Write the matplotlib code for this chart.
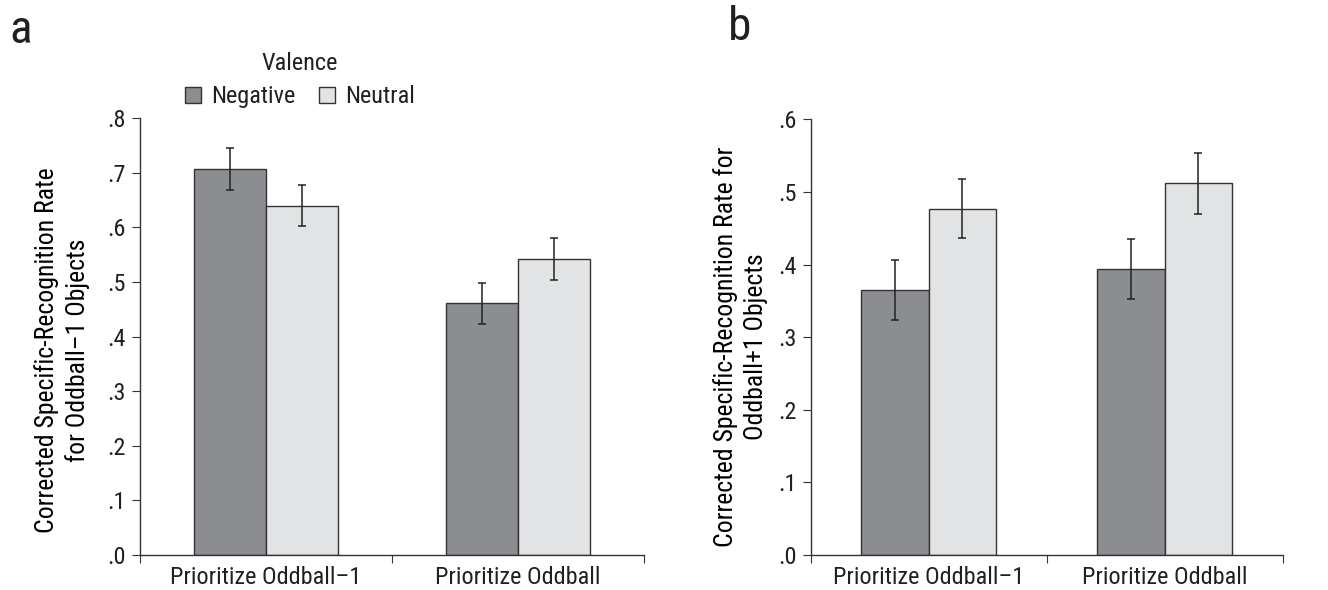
import matplotlib
matplotlib.use("Agg")
import matplotlib.pyplot as plt
from matplotlib.patches import Patch
from matplotlib import font_manager
import numpy as np

_avail = {f.name for f in font_manager.fontManager.ttflist}
_pref = ['Liberation Sans Narrow', 'Roboto Condensed', 'Archivo Narrow', 'Barlow Condensed']
_fams = [f for f in _pref if f in _avail] + ['DejaVu Sans']
plt.rcParams['font.family'] = _fams
plt.rcParams['text.color'] = '#231f20'
plt.rcParams['xtick.color'] = '#333333'
plt.rcParams['ytick.color'] = '#333333'
plt.rcParams['xtick.labelcolor'] = '#231f20'
plt.rcParams['ytick.labelcolor'] = '#231f20'

categories = ["Prioritize Oddball\u20131", "Prioritize Oddball"]
series = ["Negative", "Neutral"]

a_negative = [0.707, 0.461]
a_neutral = [0.640, 0.542]
a_neg_err = [0.038, 0.038]
a_neu_err = [0.038, 0.039]

b_negative = [0.365, 0.394]
b_neutral = [0.477, 0.512]
b_neg_err = [0.041, 0.041]
b_neu_err = [0.041, 0.042]

a_yticks = [0.0, 0.1, 0.2, 0.3, 0.4, 0.5, 0.6, 0.7, 0.8]
a_yticklabels = [".0", ".1", ".2", ".3", ".4", ".5", ".6", ".7", ".8"]
b_yticks = [0.0, 0.1, 0.2, 0.3, 0.4, 0.5, 0.6]
b_yticklabels = [".0", ".1", ".2", ".3", ".4", ".5", ".6"]

dark = "#8c8d90"
light = "#e2e3e5"
edge = "#333333"
FS = 17.5
FSL = 18.5

W, H = 1328, 590
fig = plt.figure(figsize=(W / 100, H / 100), dpi=100)
ax_a = fig.add_axes([0.1054, 0.0593, 0.3795, 0.7402])
ax_b = fig.add_axes([0.6105, 0.0593, 0.3554, 0.7385])

def draw(ax, neg, neu, neg_err, neu_err, yticks, yticklabels, ymax, ylabel):
    x = np.arange(len(categories))
    w = 0.286
    ax.bar(x - w / 2, neg, w, color=dark, edgecolor=edge, linewidth=1.0, zorder=2)
    ax.bar(x + w / 2, neu, w, color=light, edgecolor=edge, linewidth=1.0, zorder=2)
    ax.errorbar(x - w / 2, neg, yerr=neg_err, fmt='none', ecolor='#222222',
                elinewidth=1.1, capsize=2.6, capthick=1.1, zorder=3)
    ax.errorbar(x + w / 2, neu, yerr=neu_err, fmt='none', ecolor='#222222',
                elinewidth=1.1, capsize=2.6, capthick=1.1, zorder=3)
    ax.set_xlim(-0.5, 1.5)
    ax.set_ylim(0, ymax)
    ax.set_yticks(yticks)
    ax.set_yticklabels(yticklabels, fontsize=FS)
    ax.set_xticks([-0.5, 0.5, 1.5])
    ax.set_xticklabels([])
    ax.set_xticks(x, minor=True)
    ax.set_xticklabels(categories, minor=True, fontsize=FS)
    ax.tick_params(axis='x', which='minor', length=0, pad=8)
    ax.tick_params(axis='x', which='major', length=6, direction='out')
    ax.tick_params(axis='y', length=6, direction='out', pad=4)
    for s in ['top', 'right']:
        ax.spines[s].set_visible(False)
    for s in ['left', 'bottom']:
        ax.spines[s].set_color('#333333')
        ax.spines[s].set_linewidth(1.0)
    ax.set_ylabel(ylabel, fontsize=FSL, linespacing=1.3)

draw(ax_a, a_negative, a_neutral, a_neg_err, a_neu_err, a_yticks, a_yticklabels, 0.8,
     "Corrected Specific-Recognition Rate\nfor Oddball\u20131 Objects")
draw(ax_b, b_negative, b_neutral, b_neg_err, b_neu_err, b_yticks, b_yticklabels, 0.6,
     "Corrected Specific-Recognition Rate for\nOddball+1 Objects")

handles = [Patch(facecolor=dark, edgecolor=edge, linewidth=1.0),
           Patch(facecolor=light, edgecolor=edge, linewidth=1.0)]
leg = fig.legend(handles, series, title="Valence", loc='center',
                 bbox_to_anchor=(300 / W, 1 - 80 / H), ncol=2, frameon=False,
                 fontsize=FS, title_fontsize=FS, handlelength=0.66, handleheight=0.66,
                 handletextpad=0.42, columnspacing=0.95, labelspacing=0.45)

fig.text(9 / W, 1 - 30 / H, "a", fontsize=34, va='center', ha='left')
fig.text(728 / W, 1 - 27 / H, "b", fontsize=34, va='center', ha='left')

# place y-labels so their right edge and vertical centre match the reference
fig.canvas.draw()
for ax, right_px, center_px in [(ax_a, 90, 350), (ax_b, 768, 347)]:
    lab = ax.yaxis.label
    ax.yaxis.set_label_coords(0, 0.5)
    fig.canvas.draw()
    bb = lab.get_window_extent()
    tx = right_px
    ty = H - center_px
    dx = tx - bb.x1
    dy = ty - (bb.y0 + bb.y1) / 2
    ax_bb = ax.get_window_extent()
    ax.yaxis.set_label_coords(dx / ax_bb.width, 0.5 + dy / ax_bb.height)

fig.savefig("out.png", dpi=100)
